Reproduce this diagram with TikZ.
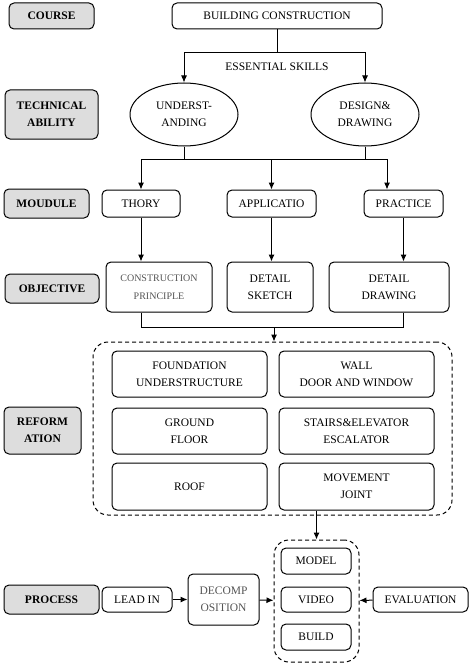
\documentclass[tikz,border=0pt]{standalone}
\usepackage{fontspec}
\setmainfont{Liberation Serif}
\usetikzlibrary{arrows.meta,shapes.geometric}
\definecolor{lblgray}{RGB}{221,221,221}
\definecolor{softtext}{RGB}{85,85,85}
\tikzset{
	lbl/.style={draw, line width=1pt, rounded corners=5pt, fill=lblgray, font=\fontsize{11.5}{17}\selectfont\bfseries, align=center, inner sep=0pt},
	box/.style={draw, line width=1pt, rounded corners=5pt, fill=white, align=center, inner sep=0pt},
	oval/.style={draw, line width=1pt, ellipse, align=center, inner sep=0pt, minimum width=108pt, minimum height=63pt},
	grp/.style={draw, line width=1pt, dash pattern=on 4pt off 3pt, rounded corners=15pt, inner sep=0pt},
	arr/.style={line width=1pt, -{Latex[length=7pt,width=6pt]}},
	ln/.style={line width=1pt}
}
\begin{document}
\begin{tikzpicture}[x=1pt, y=-1pt, font=\fontsize{11.5}{17}\selectfont]
		%%%%% START %%%%%
		\useasboundingbox (0,0) rectangle (474,666);
		
		% row labels
		\node[lbl, minimum width=85pt, minimum height=26pt] (course) at (51.5,16) {COURSE};
		\node[lbl, minimum width=93pt, minimum height=49pt] (tech) at (51.5,114.5) {TECHNICAL\\ABILITY};
		\node[lbl, minimum width=85pt, minimum height=29pt] (modlbl) at (46.5,203.5) {MOUDULE};
		\node[lbl, minimum width=94pt, minimum height=29pt] (objlbl) at (52,288.5) {OBJECTIVE};
		\node[lbl, minimum width=77pt, minimum height=47pt] (reflbl) at (42.5,430.5) {REFORM\\ATION};
		\node[lbl, minimum width=95pt, minimum height=29pt] (proclbl) at (51.5,599.5) {PROCESS};
		
		% course and skills
		\node[box, minimum width=210pt, minimum height=26pt] (bc) at (277,16) {BUILDING CONSTRUCTION};
		\node[oval] (und) at (184,114.5) {UNDERST-\\ANDING};
		\node[oval] (des) at (365,114.5) {DESIGN\&\\DRAWING};
		\node (skills) at (277,67) {ESSENTIAL SKILLS};
		
		\draw[ln] (bc.south) -- ++(0,23) coordinate (ess);
		\draw[arr] (ess) -| (und.north);
		\draw[arr] (ess) -| (des.north);
		
		% module
		\node[box, minimum width=78pt, minimum height=27pt] (thory) at (141,203.5) {THORY};
		\node[box, minimum width=89pt, minimum height=27pt] (appl) at (271.5,203.5) {APPLICATIO};
		\node[box, minimum width=79pt, minimum height=27pt] (prac) at (403.5,203.5) {PRACTICE};
		
		\coordinate (busL) at (141,159);
		\coordinate (busR) at (387,159);
		\draw[ln] (busL) -- (busR);
		\draw[ln] (und.south) -- (und.south |- busL);
		\draw[ln] (des.south) -- (des.south |- busL);
		\draw[arr] (busL) -- (thory.north);
		\draw[arr] (appl.north |- busL) -- (appl.north);
		\draw[arr] (busR) -- (busR |- prac.north);
		
		% objective
		\node[box, minimum width=106pt, minimum height=50pt, font=\fontsize{10}{17.5}\selectfont, text=softtext] (cp) at (159,287) {CONSTRUCTION\\PRINCIPLE};
		\node[box, minimum width=86pt, minimum height=50pt] (ds) at (270,287) {DETAIL\\SKETCH};
		\node[box, minimum width=120pt, minimum height=50pt] (dd) at (389,287) {DETAIL\\DRAWING};
		
		\draw[arr] (thory.south) -- (thory.south |- cp.north);
		\draw[arr] (appl.south) -- (appl.south |- ds.north);
		\draw[arr] (prac.south) -- (prac.south |- dd.north);
		
		% reformation
		\node[grp, minimum width=359pt, minimum height=173pt] (reform) at (272.5,428.5) {};
		\node[box, minimum width=155pt, minimum height=46pt] (fnd) at (189.5,374) {FOUNDATION\\UNDERSTRUCTURE};
		\node[box, minimum width=155pt, minimum height=46pt] (wall) at (356.5,374) {WALL\\DOOR AND WINDOW};
		\node[box, minimum width=155pt, minimum height=46pt] (grd) at (189.5,431) {GROUND\\FLOOR};
		\node[box, minimum width=155pt, minimum height=46pt] (stairs) at (356.5,431) {STAIRS\&ELEVATOR\\ESCALATOR};
		\node[box, minimum width=155pt, minimum height=47pt] (roof) at (189.5,486.5) {ROOF};
		\node[box, minimum width=155pt, minimum height=47pt] (joint) at (356.5,486.5) {MOVEMENT\\JOINT};
		
		\coordinate (objbus) at (274,327);
		\draw[ln] (thory.south |- cp.south) |- (objbus);
		\draw[ln] (prac.south |- dd.south) |- (objbus);
		\draw[arr] (objbus) -- (objbus |- reform.north);
		
		% process
		\node[grp, minimum width=85pt, minimum height=122pt] (media) at (316.5,601) {};
		\node[box, minimum width=70pt, minimum height=26pt] (model) at (316,561) {MODEL};
		\node[box, minimum width=70pt, minimum height=25pt] (video) at (316,599.5) {VIDEO};
		\node[box, minimum width=70pt, minimum height=26pt] (build) at (316,637) {BUILD};
		\node[box, minimum width=70pt, minimum height=25pt] (leadin) at (137,599.5) {LEAD IN};
		\node[box, minimum width=71pt, minimum height=51pt, text=softtext] (decomp) at (223.5,599.5) {DECOMP\\OSITION};
		\node[box, minimum width=95pt, minimum height=25pt] (eval) at (420.5,599.5) {EVALUATION};
		
		\draw[arr] (media.north |- joint.south) -- (media.north);
		\draw[arr] (leadin) -- (decomp);
		\draw[arr] (decomp) -- (media);
		\draw[arr] (eval) -- (media);
		
		%%%%% END %%%%%
\end{tikzpicture}
\end{document}
